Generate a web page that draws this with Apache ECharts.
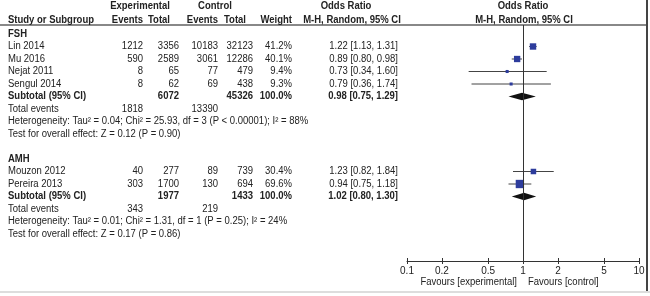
<!DOCTYPE html>
<html>
<head>
<meta charset="utf-8">
<script src="https://cdn.jsdelivr.net/npm/echarts@6/dist/echarts.min.js"></script>
<style>
  html, body { margin: 0; padding: 0; background: #fff; }
  #chart { width: 650px; height: 296px; }
</style>
</head>
<body>
<div id="chart"></div>
<script>
// studies
const studies = ['Lin 2014', 'Mu 2016', 'Nejat 2011', 'Sengul 2014', 'Mouzon 2012', 'Pereira 2013'];
const studyRows = [1, 2, 3, 4, 11, 12];
const expEvents = [1212, 590, 8, 8, 40, 303];
const expTotal = [3356, 2589, 65, 62, 277, 1700];
const ctrlEvents = [10183, 3061, 77, 69, 89, 130];
const ctrlTotal = [32123, 12286, 479, 438, 739, 694];
const weights = [41.2, 40.1, 9.4, 9.3, 30.4, 69.6];
const orEst = [1.22, 0.89, 0.73, 0.79, 1.23, 0.94];
const orLow = [1.13, 0.80, 0.34, 0.36, 0.82, 0.75];
const orHigh = [1.31, 0.98, 1.60, 1.74, 1.84, 1.18];

// subgroups
const subgroups = ['FSH', 'AMH'];
const subgroupRows = [0, 10];
const subtotalRows = [5, 13];
const subExpTotal = [6072, 1977];
const subCtrlTotal = [45326, 1433];
const subEst = [0.98, 1.02];
const subLow = [0.75, 0.80];
const subHigh = [1.29, 1.30];
const totalExpEvents = [1818, 343];
const totalCtrlEvents = [13390, 219];
const heterogeneity = [
  'Heterogeneity: Tau\u00b2 = 0.04; Chi\u00b2 = 25.93, df = 3 (P < 0.00001); I\u00b2 = 88%',
  'Heterogeneity: Tau\u00b2 = 0.01; Chi\u00b2 = 1.31, df = 1 (P = 0.25); I\u00b2 = 24%'
];
const overallEffect = [
  'Test for overall effect: Z = 0.12 (P = 0.90)',
  'Test for overall effect: Z = 0.17 (P = 0.86)'
];

const ticks = [0.1, 0.2, 0.5, 1, 2, 5, 10];

// column anchors in the text grid (px along 0..650)
const col = { name: 8, expEv: 143, expTot: 179, ctrlEv: 218, ctrlTot: 253, weight: 292, orText: 398 };
const FONT = '"Liberation Sans", Arial, sans-serif';
const TEXT_COLOR = '#222';

const fmtOR = (e, l, h) => e.toFixed(2) + ' [' + l.toFixed(2) + ', ' + h.toFixed(2) + ']';

// build text cells
const cells = [];
const cell = (x, row, text, align, bold) => cells.push({ x, row, text: String(text), align: align || 'right', bold: !!bold });

// header
cell(140, -2.24, 'Experimental', 'center', true);
cell(215, -2.24, 'Control', 'center', true);
cell(346, -2.24, 'Odds Ratio', 'center', true);
cell(523, -2.24, 'Odds Ratio', 'center', true);
cell(col.name, -1.14, 'Study or Subgroup', 'left', true);
cell(col.expEv, -1.14, 'Events', 'right', true);
cell(170, -1.14, 'Total', 'right', true);
cell(col.ctrlEv, -1.14, 'Events', 'right', true);
cell(246, -1.14, 'Total', 'right', true);
cell(col.weight, -1.14, 'Weight', 'right', true);
cell(352, -1.14, 'M-H, Random, 95% CI', 'center', true);
cell(524, -1.14, 'M-H, Random, 95% CI', 'center', true);

studies.forEach((s, i) => {
  const r = studyRows[i];
  cell(col.name, r, s, 'left');
  cell(col.expEv, r, expEvents[i]);
  cell(col.expTot, r, expTotal[i]);
  cell(col.ctrlEv, r, ctrlEvents[i]);
  cell(col.ctrlTot, r, ctrlTotal[i]);
  cell(col.weight, r, weights[i].toFixed(1) + '%');
  cell(col.orText, r, fmtOR(orEst[i], orLow[i], orHigh[i]));
});

subgroups.forEach((g, i) => {
  cell(col.name, subgroupRows[i], g, 'left', true);
  const s = subtotalRows[i];
  cell(col.name, s, 'Subtotal (95% CI)', 'left', true);
  cell(col.expTot, s, subExpTotal[i], 'right', true);
  cell(col.ctrlTot, s, subCtrlTotal[i], 'right', true);
  cell(col.weight, s, '100.0%', 'right', true);
  cell(col.orText, s, fmtOR(subEst[i], subLow[i], subHigh[i]), 'right', true);
  cell(col.name, s + 1, 'Total events', 'left');
  cell(col.expEv, s + 1, totalExpEvents[i]);
  cell(col.ctrlEv, s + 1, totalCtrlEvents[i]);
  cell(col.name, s + 2, heterogeneity[i], 'left');
  cell(col.name, s + 3, overallEffect[i], 'left');
});

cell(517, 19.84, 'Favours [experimental]', 'right');
cell(528, 19.84, 'Favours [control]', 'left');

const studyData = studies.map((s, i) => [orEst[i], studyRows[i], orLow[i], orHigh[i], weights[i]]);
const diamondData = subgroups.map((g, i) => [subEst[i], subtotalRows[i], subLow[i], subHigh[i]]);

const chart = echarts.init(document.getElementById('chart'), null, { renderer: 'canvas' });

const option = {
  animation: false,
  backgroundColor: '#fff',
  grid: [
    { left: 407, top: 25, width: 232, height: 236 },
    { left: 0, top: 0, width: 650, height: 296 }
  ],
  xAxis: [
    {
      gridIndex: 0, type: 'log', logBase: 10, min: 0.1, max: 10, position: 'bottom',
      axisLine: { show: true, onZero: false, lineStyle: { color: '#333', width: 1 } },
      axisTick: { show: true, length: 3, customValues: ticks, lineStyle: { color: '#333' } },
      axisLabel: {
        customValues: ticks, margin: 5, color: TEXT_COLOR, fontSize: 10, fontFamily: FONT,
        formatter: v => String(+(+v).toPrecision(2))
      },
      minorTick: { show: false },
      splitLine: { show: false }
    },
    { gridIndex: 1, type: 'value', min: 0, max: 650, show: false },
    {
      // inward half of the cross-shaped ticks
      gridIndex: 0, type: 'log', logBase: 10, min: 0.1, max: 10, position: 'bottom', offset: 0,
      axisLine: { show: false, onZero: false },
      axisTick: { show: true, inside: true, length: 3, customValues: ticks, lineStyle: { color: '#333' } },
      axisLabel: { show: false },
      splitLine: { show: false }
    }
  ],
  yAxis: [
    { gridIndex: 0, type: 'value', min: -0.72, max: 18.16, inverse: true, show: false },
    { gridIndex: 1, type: 'value', min: -2.72, max: 20.96, inverse: true, show: false }
  ],
  graphic: [
    { type: 'line', shape: { x1: 0, y1: 25, x2: 647, y2: 25 }, style: { stroke: '#888', lineWidth: 2 } },
    { type: 'line', shape: { x1: 647, y1: 0, x2: 647, y2: 291 }, style: { stroke: '#444', lineWidth: 2 } },
    { type: 'line', shape: { x1: 0, y1: 292, x2: 650, y2: 292 }, style: { stroke: '#ddd', lineWidth: 2 } }
  ],
  series: [
    {
      name: 'studies', type: 'custom', xAxisIndex: 0, yAxisIndex: 0,
      encode: { x: 0, y: 1 },
      data: studyData,
      renderItem: (params, api) => {
        const row = api.value(1);
        const p = api.coord([api.value(0), row]);
        const lo = api.coord([api.value(2), row]);
        const hi = api.coord([api.value(3), row]);
        const size = Math.max(2, Math.sqrt(api.value(4)));
        return {
          type: 'group',
          children: [
            { type: 'line', shape: { x1: lo[0], y1: lo[1], x2: hi[0], y2: hi[1] }, style: { stroke: '#444', lineWidth: 1 } },
            { type: 'rect', shape: { x: p[0] - size / 2, y: p[1] - size / 2, width: size, height: size }, style: { fill: '#2d3c9c' } }
          ]
        };
      },
      markLine: {
        silent: true, symbol: 'none', label: { show: false },
        lineStyle: { color: '#333', width: 1, type: 'solid' },
        data: [{ xAxis: 1 }]
      },
      z: 3
    },
    {
      name: 'subtotals', type: 'custom', xAxisIndex: 0, yAxisIndex: 0,
      encode: { x: 0, y: 1 },
      data: diamondData,
      renderItem: (params, api) => {
        const row = api.value(1);
        const p = api.coord([api.value(0), row]);
        const lo = api.coord([api.value(2), row]);
        const hi = api.coord([api.value(3), row]);
        const h = 3.8;
        return {
          type: 'polygon',
          shape: { points: [[lo[0], p[1]], [p[0], p[1] - h], [hi[0], p[1]], [p[0], p[1] + h]] },
          style: { fill: '#111' }
        };
      },
      z: 4
    },
    {
      name: 'table', type: 'custom', xAxisIndex: 1, yAxisIndex: 1,
      encode: { x: 0, y: 1 }, clip: false,
      data: cells.map(c => [c.x, c.row]),
      renderItem: (params, api) => {
        const c = cells[params.dataIndex];
        const p = api.coord([api.value(0), api.value(1)]);
        return {
          type: 'text', x: p[0], y: p[1], scaleX: 0.95,
          style: {
            x: 0, y: 0, text: c.text, fill: TEXT_COLOR,
            textAlign: c.align, textVerticalAlign: 'middle',
            font: (c.bold ? 'bold ' : '') + '10px ' + FONT
          }
        };
      },
      z: 5
    }
  ]
};

chart.setOption(option);
</script>
</body>
</html>
